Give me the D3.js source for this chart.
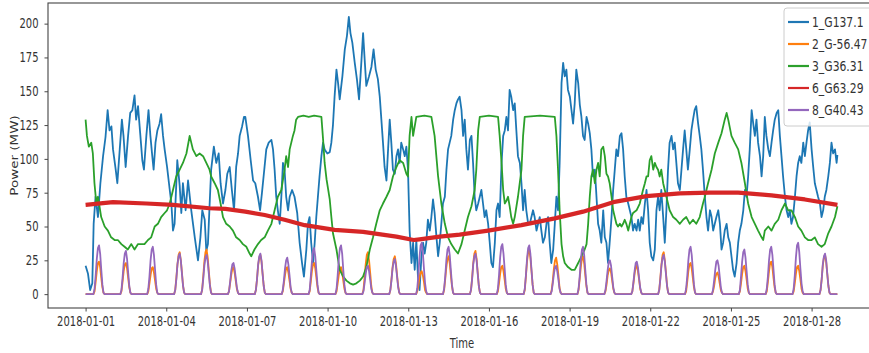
<!DOCTYPE html>
<html>
<head>
<meta charset="utf-8">
<script src="https://cdn.jsdelivr.net/npm/d3@7"></script>
<style>
  body { margin: 0; background: #fff; }
  svg { display: block; }
  text { font-family: "DejaVu Sans", sans-serif; fill: #333; }
</style>
</head>
<body>
<svg id="chart" width="869" height="353"></svg>
<script>
// ---- data -------------------------------------------------------------
const seriesNames = ["1_G137.1", "2_G-56.47", "3_G36.31", "6_G63.29", "8_G40.43"];
const startDay = Date.UTC(2018, 0, 1);
const xTickLabels = ["2018-01-01", "2018-01-04", "2018-01-07", "2018-01-10", "2018-01-13",
                     "2018-01-16", "2018-01-19", "2018-01-22", "2018-01-25", "2018-01-28"];
const yTickValues = [0, 25, 50, 75, 100, 125, 150, 175, 200];

// 1_G137.1 : [day offset, MW]
const unit1 = [
  [0,21],[0.09,15],[0.17,3],[0.25,8],[0.30,52],[0.37,72],[0.46,57],[0.55,82],[0.65,102],[0.74,116],
  [0.82,136],[0.89,121],[0.96,124],[1.02,107],[1.12,92],[1.18,82],[1.27,107],[1.35,129],[1.41,117],[1.49,94],
  [1.58,117],[1.66,134],[1.74,136],[1.82,147],[1.88,129],[1.95,139],[2.03,119],[2.11,99],[2.17,92],[2.26,117],
  [2.34,136],[2.41,117],[2.48,102],[2.53,92],[2.60,112],[2.67,121],[2.75,126],[2.81,133],[2.88,117],[2.94,107],
  [3.03,94],[3.13,77],[3.19,67],[3.25,47],[3.31,52],[3.41,99],[3.50,80],[3.56,60],[3.62,82],[3.72,62],
  [3.81,84],[3.93,62],[4.06,42],[4.18,25],[4.27,42],[4.34,62],[4.43,55],[4.49,32],[4.55,37],[4.61,65],
  [4.67,92],[4.77,109],[4.86,97],[4.95,104],[5.02,82],[5.11,67],[5.20,77],[5.27,89],[5.36,94],[5.44,77],
  [5.52,62],[5.60,94],[5.67,104],[5.73,117],[5.82,124],[5.89,131],[5.94,131],[6.04,117],[6.14,99],[6.23,84],
  [6.31,82],[6.41,72],[6.49,62],[6.56,75],[6.63,89],[6.72,107],[6.81,112],[6.91,114],[6.97,107],[7.03,92],
  [7.09,72],[7.15,62],[7.22,52],[7.28,72],[7.34,97],[7.40,92],[7.46,72],[7.53,62],[7.59,72],[7.68,77],
  [7.77,72],[7.87,60],[7.96,38],[8.05,23],[8.12,13],[8.21,33],[8.27,52],[8.33,57],[8.39,38],[8.46,23],
  [8.52,38],[8.58,57],[8.64,72],[8.70,87],[8.77,102],[8.83,112],[8.89,107],[8.99,104],[9.08,105],[9.14,112],
  [9.20,125],[9.26,146],[9.33,166],[9.39,156],[9.45,144],[9.55,161],[9.64,181],[9.72,191],[9.79,205],[9.85,193],
  [9.92,186],[10.01,171],[10.09,159],[10.17,144],[10.26,173],[10.32,193],[10.38,173],[10.44,154],[10.54,161],[10.63,168],
  [10.71,181],[10.79,166],[10.87,159],[10.94,146],[11.00,129],[11.06,112],[11.12,94],[11.19,84],[11.25,107],[11.31,129],
  [11.37,112],[11.43,92],[11.50,89],[11.56,102],[11.62,107],[11.68,97],[11.74,112],[11.81,107],[11.87,102],[11.93,109],
  [11.99,92],[12.05,47],[12.12,23],[12.18,38],[12.24,18],[12.30,40],[12.36,13],[12.42,3],[12.49,28],[12.55,38],
  [12.61,30],[12.67,38],[12.73,55],[12.80,47],[12.86,57],[12.92,70],[12.98,60],[13.05,42],[13.11,28],[13.17,38],
  [13.23,52],[13.29,67],[13.36,72],[13.42,92],[13.48,107],[13.54,112],[13.60,117],[13.67,129],[13.73,136],[13.79,141],
  [13.85,144],[13.91,146],[13.98,136],[14.04,117],[14.10,129],[14.16,107],[14.22,92],[14.29,114],[14.35,117],[14.41,97],
  [14.47,72],[14.53,62],[14.60,67],[14.66,72],[14.72,77],[14.78,67],[14.84,57],[14.90,62],[14.97,52],[15.03,38],
  [15.09,23],[15.15,20],[15.22,38],[15.28,62],[15.34,67],[15.40,57],[15.47,97],[15.53,117],[15.59,121],[15.65,131],
  [15.71,121],[15.77,151],[15.83,146],[15.90,136],[15.96,141],[16.02,121],[16.08,102],[16.15,97],[16.21,82],[16.27,62],
  [16.33,77],[16.39,62],[16.46,52],[16.52,52],[16.58,57],[16.64,62],[16.70,57],[16.77,47],[16.83,52],[16.89,57],
  [16.95,47],[17.01,38],[17.08,42],[17.14,52],[17.20,57],[17.26,38],[17.32,23],[17.39,33],[17.45,52],[17.51,72],
  [17.57,62],[17.63,97],[17.70,156],[17.76,171],[17.82,161],[17.88,166],[17.94,151],[18.01,146],[18.07,136],[18.13,126],
  [18.19,141],[18.25,166],[18.32,156],[18.38,140],[18.44,131],[18.50,117],[18.56,114],[18.63,131],[18.69,126],[18.75,119],
  [18.81,107],[18.87,87],[18.94,92],[19.00,72],[19.06,52],[19.12,47],[19.18,38],[19.25,62],[19.31,42],[19.37,38],
  [19.43,23],[19.49,38],[19.56,57],[19.62,77],[19.68,92],[19.74,107],[19.80,102],[19.87,117],[19.93,119],[19.99,107],
  [20.05,87],[20.11,72],[20.18,67],[20.24,62],[20.30,57],[20.36,47],[20.42,52],[20.49,47],[20.55,55],[20.61,47],
  [20.67,57],[20.73,52],[20.80,67],[20.86,77],[20.92,62],[20.98,38],[21.04,28],[21.11,25],[21.17,33],[21.23,62],
  [21.29,72],[21.35,62],[21.41,77],[21.48,57],[21.54,38],[21.60,62],[21.66,92],[21.72,112],[21.79,117],[21.85,107],
  [21.91,112],[21.97,97],[22.03,82],[22.10,77],[22.16,92],[22.22,107],[22.28,121],[22.34,107],[22.40,92],[22.47,107],
  [22.53,121],[22.59,129],[22.65,136],[22.71,139],[22.78,126],[22.84,117],[22.90,107],[22.96,92],[23.03,72],[23.09,57],
  [23.15,47],[23.22,62],[23.28,57],[23.34,47],[23.40,52],[23.46,57],[23.53,62],[23.59,52],[23.65,33],[23.71,38],
  [23.77,47],[23.84,52],[23.90,42],[23.96,38],[24.02,28],[24.08,18],[24.14,13],[24.21,23],[24.27,38],[24.33,47],
  [24.39,52],[24.46,62],[24.52,77],[24.58,72],[24.64,87],[24.70,107],[24.77,136],[24.83,126],[24.89,117],[24.95,129],
  [25.01,112],[25.08,102],[25.14,87],[25.20,102],[25.26,131],[25.32,117],[25.39,107],[25.45,102],[25.51,112],[25.57,121],
  [25.63,129],[25.70,134],[25.76,136],[25.82,117],[25.88,102],[25.94,87],[26.01,72],[26.07,62],[26.13,57],[26.19,62],
  [26.25,52],[26.31,57],[26.38,72],[26.44,87],[26.50,97],[26.56,102],[26.62,97],[26.69,112],[26.75,102],[26.81,112],
  [26.87,121],[26.93,127],[27.00,107],[27.06,94],[27.12,82],[27.18,77],[27.24,72],[27.31,67],[27.37,57],[27.43,62],
  [27.49,72],[27.55,77],[27.62,87],[27.68,97],[27.74,112],[27.80,104],[27.87,107],[27.93,97],[27.96,103]
];

// 3_G36.31 : [day offset, MW]
const unit3 = [
  [0,129],[0.05,117],[0.12,109],[0.21,112],[0.27,104],[0.33,82],[0.40,67],[0.46,72],[0.58,57],[0.71,50],
  [0.83,47],[0.95,42],[1.08,40],[1.20,40],[1.33,37],[1.45,35],[1.57,33],[1.70,37],[1.82,33],[1.95,37],
  [2.07,37],[2.19,37],[2.32,40],[2.44,42],[2.57,50],[2.69,52],[2.81,57],[2.94,60],[3.03,62],[3.13,67],
  [3.25,77],[3.37,87],[3.50,92],[3.62,97],[3.75,104],[3.87,117],[3.99,107],[4.12,102],[4.24,104],[4.37,102],
  [4.49,97],[4.61,92],[4.67,87],[4.80,82],[4.92,77],[5.02,67],[5.11,57],[5.23,52],[5.36,50],[5.48,47],
  [5.60,42],[5.73,40],[5.85,37],[5.98,35],[6.10,30],[6.16,28],[6.28,33],[6.41,37],[6.53,40],[6.66,42],
  [6.78,47],[6.91,52],[7.03,62],[7.15,72],[7.28,77],[7.40,92],[7.46,102],[7.53,94],[7.59,107],[7.65,112],
  [7.71,117],[7.77,121],[7.83,129],[7.90,131],[8.10,132],[8.30,131],[8.50,132],[8.77,131],[8.83,115],[8.89,97],
  [8.96,85],[9.08,70],[9.14,57],[9.20,45],[9.33,33],[9.45,18],[9.58,13],[9.70,10],[9.83,8],[9.95,7],
  [10.07,8],[10.20,10],[10.32,13],[10.44,20],[10.57,33],[10.69,42],[10.81,52],[10.94,62],[11.06,67],[11.19,72],
  [11.31,77],[11.43,87],[11.56,94],[11.68,99],[11.81,97],[11.93,89],[11.99,87],[12.05,117],[12.12,131],[12.18,117],
  [12.30,131],[12.60,132],[12.86,131],[12.92,124],[12.98,117],[13.11,87],[13.23,67],[13.36,52],[13.48,42],[13.60,37],
  [13.73,33],[13.85,30],[13.98,37],[14.10,47],[14.22,57],[14.35,65],[14.47,77],[14.53,92],[14.60,121],[14.66,131],
  [15.00,132],[15.34,131],[15.40,117],[15.47,97],[15.53,77],[15.59,67],[15.65,69],[15.71,72],[15.77,65],[15.83,57],
  [15.90,52],[15.96,57],[16.08,72],[16.21,92],[16.27,117],[16.33,131],[16.90,132],[17.45,131],[17.51,117],[17.57,92],
  [17.63,62],[17.70,37],[17.76,28],[17.82,23],[17.94,20],[18.07,18],[18.19,18],[18.32,23],[18.44,28],[18.56,33],
  [18.63,37],[18.69,52],[18.75,72],[18.81,87],[18.87,92],[18.94,82],[19.00,92],[19.06,97],[19.12,87],[19.18,107],
  [19.25,109],[19.31,102],[19.37,89],[19.43,87],[19.49,82],[19.56,72],[19.62,62],[19.68,57],[19.74,52],[19.80,50],
  [19.87,52],[19.93,50],[19.99,52],[20.05,55],[20.11,52],[20.18,47],[20.24,52],[20.30,57],[20.36,60],[20.49,62],
  [20.61,67],[20.67,72],[20.73,77],[20.80,82],[20.86,87],[20.92,87],[20.98,99],[21.04,102],[21.11,92],[21.17,97],
  [21.23,94],[21.29,92],[21.35,87],[21.41,92],[21.48,82],[21.54,77],[21.60,72],[21.66,67],[21.72,62],[21.85,57],
  [21.97,55],[22.10,52],[22.22,55],[22.34,57],[22.47,52],[22.59,55],[22.71,52],[22.84,57],[22.96,67],[23.03,72],
  [23.15,82],[23.28,92],[23.40,104],[23.53,112],[23.65,119],[23.77,129],[23.84,134],[23.90,129],[24.02,117],[24.14,112],
  [24.27,107],[24.39,97],[24.52,82],[24.64,67],[24.77,57],[24.89,52],[25.01,47],[25.14,42],[25.20,40],[25.26,47],
  [25.39,50],[25.51,47],[25.63,52],[25.76,55],[25.88,62],[26.01,67],[26.13,62],[26.25,62],[26.38,57],[26.50,50],
  [26.62,47],[26.75,42],[26.87,40],[27.00,40],[27.12,42],[27.24,37],[27.37,35],[27.49,37],[27.62,45],[27.74,50],
  [27.87,57],[27.96,65]
];

// 6_G63.29 : [day offset, MW]
const unit6 = [
  [0,66],[1.02,68],[2.26,67],[3.25,66],[4.61,63.5],[5.20,63],[5.94,61],[6.66,58.5],[7.40,55],[8.15,51],
  [9.26,47.5],[10.32,46],[11.56,42.5],[12.20,40],[12.42,40.5],[13.17,42.5],[13.91,44],[14.97,47],[16.21,51],[17.45,56],
  [18.50,61],[19.62,68],[20.86,72.5],[22.10,74.5],[23.21,75],[24.27,75],[25.51,73],[26.75,70],[27.96,66]
];

// 2_G-56.47 : MW for hours 08..16 of each day (other hours 0)
const unit2Daytime = [
  [2,9,17,23,24,20,12,5,1],[2,9,17,22,23,19,12,5,1],[2,8,14,19,20,16,10,4,1],[3,12,22,29,31,25,16,6,1],
  [3,13,24,31,33,27,17,7,1],[2,8,14,19,20,16,10,4,1],[3,11,21,27,29,24,15,6,1],[2,8,14,19,20,16,10,4,1],
  [2,9,17,22,23,19,12,5,1],[2,8,14,19,20,16,10,4,1],[3,12,22,29,31,25,16,6,1],[3,11,20,26,28,23,14,6,1],
  [2,6,12,16,17,14,9,3,1],[3,11,20,26,28,23,14,6,1],[3,12,23,30,32,26,16,6,1],[2,8,15,20,21,17,11,4,1],
  [3,13,24,31,33,27,17,7,1],[3,10,19,25,27,22,14,5,1],[3,11,20,26,28,23,14,6,1],[2,7,14,18,19,16,10,4,1],
  [2,8,15,20,21,17,11,4,1],[3,12,22,29,31,25,16,6,1],[2,9,17,22,23,19,12,5,1],[2,6,12,15,16,13,8,3,1],
  [2,8,15,20,21,17,11,4,1],[2,9,17,23,24,20,12,5,1],[2,8,15,20,21,17,11,4,1],[3,11,21,27,29,24,15,6,1]
];

// 8_G40.43 : MW for hours 08..16 of each day (other hours 0)
const unit8Daytime = [
  [4,14,26,34,36,30,18,7,1],[3,12,23,30,32,26,16,6,1],[4,13,25,33,35,29,18,7,1],[3,11,22,28,30,25,15,6,1],
  [3,11,21,27,29,24,15,6,1],[2,9,17,22,23,19,12,5,1],[3,11,22,28,30,25,15,6,1],[3,10,19,25,27,22,14,5,1],
  [3,13,24,32,34,28,17,7,1],[4,14,26,34,36,30,18,7,1],[2,8,15,20,21,17,11,4,1],[3,10,19,24,26,21,13,5,1],
  [4,14,27,36,38,31,19,8,2],[4,13,25,33,35,29,18,7,1],[3,11,22,28,30,25,15,6,1],[4,14,27,35,37,30,19,7,1],
  [4,14,26,34,36,30,18,7,1],[2,8,15,20,21,17,11,4,1],[4,13,25,33,35,29,18,7,1],[3,10,18,24,25,21,13,5,1],
  [2,9,17,23,24,20,12,5,1],[3,11,21,27,29,24,15,6,1],[4,13,25,33,35,29,18,7,1],[3,10,18,24,25,21,13,5,1],
  [3,13,24,31,33,27,17,7,1],[4,13,25,33,35,29,18,7,1],[4,14,27,36,38,31,19,8,2],[3,11,22,28,30,25,15,6,1]
];

// ---- helpers ----------------------------------------------------------
const DAY_MS = 86400000;
const toDate = d => new Date(startDay + d * DAY_MS);
const fromKnots = knots => knots.map(([d, v]) => ({ t: toDate(d), v }));
function fromDaytime(rows) {
  const out = [];
  rows.forEach((row, d) => {
    for (let h = 0; h < 24; h++) {
      const v = (h >= 8 && h <= 16) ? row[h - 8] : 0;
      out.push({ t: toDate(d + h / 24), v });
    }
  });
  return out;
}

const series = [
  { name: seriesNames[0], color: "#1f77b4", width: 1.8, data: fromKnots(unit1) },
  { name: seriesNames[1], color: "#ff7f0e", width: 1.8, data: fromDaytime(unit2Daytime) },
  { name: seriesNames[2], color: "#2ca02c", width: 1.8, data: fromKnots(unit3) },
  { name: seriesNames[3], color: "#d62728", width: 4.2, data: fromKnots(unit6) },
  { name: seriesNames[4], color: "#9467bd", width: 1.8, data: fromDaytime(unit8Daytime) }
];

// ---- layout -----------------------------------------------------------
const svg = d3.select("#chart");
const plot = { left: 48, right: 875, top: 3, bottom: 308 };
const SX = 0.74;       // horizontal squeeze of all lettering
const FONT = 13.5;

const allT = series.flatMap(s => s.data.map(p => +p.t));
const allV = series.flatMap(s => s.data.map(p => p.v));
const tMin = d3.min(allT), tMax = d3.max(allT);
const tPad = (tMax - tMin) * 0.05;
const vMin = d3.min(allV), vMax = d3.max(allV);
const vPad = (vMax - vMin) * 0.05;

const x = d3.scaleUtc()
  .domain([new Date(tMin - tPad), new Date(tMax + tPad)])
  .range([plot.left, plot.right]);
const y = d3.scaleLinear()
  .domain([vMin - vPad, vMax + vPad])
  .range([plot.bottom, plot.top]);

const defs = svg.append("defs");
defs.append("clipPath").attr("id", "clip")
  .append("rect")
  .attr("x", plot.left).attr("y", plot.top)
  .attr("width", plot.right - plot.left).attr("height", plot.bottom - plot.top);
// the printed chart is slightly soft
defs.append("filter").attr("id", "soft")
  .attr("x", "-2%").attr("y", "-2%").attr("width", "104%").attr("height", "104%")
  .append("feGaussianBlur").attr("stdDeviation", 0.35);

const line = d3.line().x(p => x(p.t)).y(p => y(p.v));
svg.append("g").attr("clip-path", "url(#clip)")
  .append("g").attr("filter", "url(#soft)")
  .selectAll("path").data(series).join("path")
  .attr("d", s => line(s.data))
  .attr("fill", "none")
  .attr("stroke", s => s.color)
  .attr("stroke-width", s => s.width)
  .attr("stroke-linejoin", "round")
  .attr("stroke-linecap", "butt");

// ---- axes -------------------------------------------------------------
const fmt = d3.utcFormat("%Y-%m-%d");
const xAxis = d3.axisBottom(x)
  .tickValues(xTickLabels.map(s => new Date(s + "T00:00:00Z")))
  .tickFormat(fmt).tickSizeOuter(0).tickSize(3.5).tickPadding(5);
const gx = svg.append("g").attr("transform", `translate(0,${plot.bottom})`).call(xAxis);
gx.select(".domain").remove();
gx.selectAll("line").attr("stroke", "#333").attr("stroke-width", 0.9);
gx.selectAll("text")
  .attr("font-size", FONT).attr("fill", "#333")
  .attr("font-family", "DejaVu Sans, sans-serif")
  .attr("transform", `scale(${SX},1)`);

const yAxis = d3.axisLeft(y).tickValues(yTickValues)
  .tickSizeOuter(0).tickSize(3.5).tickPadding(5);
const gy = svg.append("g").attr("transform", `translate(${plot.left},0)`).call(yAxis);
gy.select(".domain").remove();
gy.selectAll("line").attr("stroke", "#333").attr("stroke-width", 0.9);
gy.selectAll("text")
  .attr("font-size", FONT).attr("fill", "#333")
  .attr("font-family", "DejaVu Sans, sans-serif")
  .attr("x", -9.5 / SX)
  .attr("transform", `scale(${SX},1)`);

// axes frame
svg.append("rect")
  .attr("x", plot.left).attr("y", plot.top)
  .attr("width", plot.right - plot.left).attr("height", plot.bottom - plot.top)
  .attr("fill", "none").attr("stroke", "#444").attr("stroke-width", 1.1);

// axis titles
svg.append("text")
  .attr("transform", `translate(18,${(plot.top + plot.bottom) / 2}) scale(${SX},1) rotate(-90)`)
  .attr("text-anchor", "middle").attr("font-size", FONT)
  .text("Power (MW)");
svg.append("text")
  .attr("transform", `translate(${(plot.left + plot.right) / 2 + 0.5},348) scale(${SX},1)`)
  .attr("text-anchor", "middle").attr("font-size", FONT)
  .text("Time");

// ---- legend -----------------------------------------------------------
const lg = svg.append("g").attr("transform", "translate(784,8)");
lg.append("rect")
  .attr("x", 0).attr("y", 0).attr("width", 110).attr("height", 118)
  .attr("rx", 3).attr("fill", "#fff").attr("fill-opacity", 0.8)
  .attr("stroke", "#ccc").attr("stroke-width", 1);
const rows = lg.selectAll("g.row").data(series).join("g")
  .attr("class", "row")
  .attr("transform", (s, i) => `translate(0,${14 + i * 22})`);
rows.append("line")
  .attr("x1", 4).attr("x2", 25).attr("y1", 0).attr("y2", 0)
  .attr("stroke", s => s.color).attr("stroke-width", 2.2);
rows.append("text")
  .attr("transform", `translate(28,0) scale(0.8,1)`)
  .attr("dy", "0.36em").attr("font-size", FONT)
  .text(s => s.name);
</script>
</body>
</html>
